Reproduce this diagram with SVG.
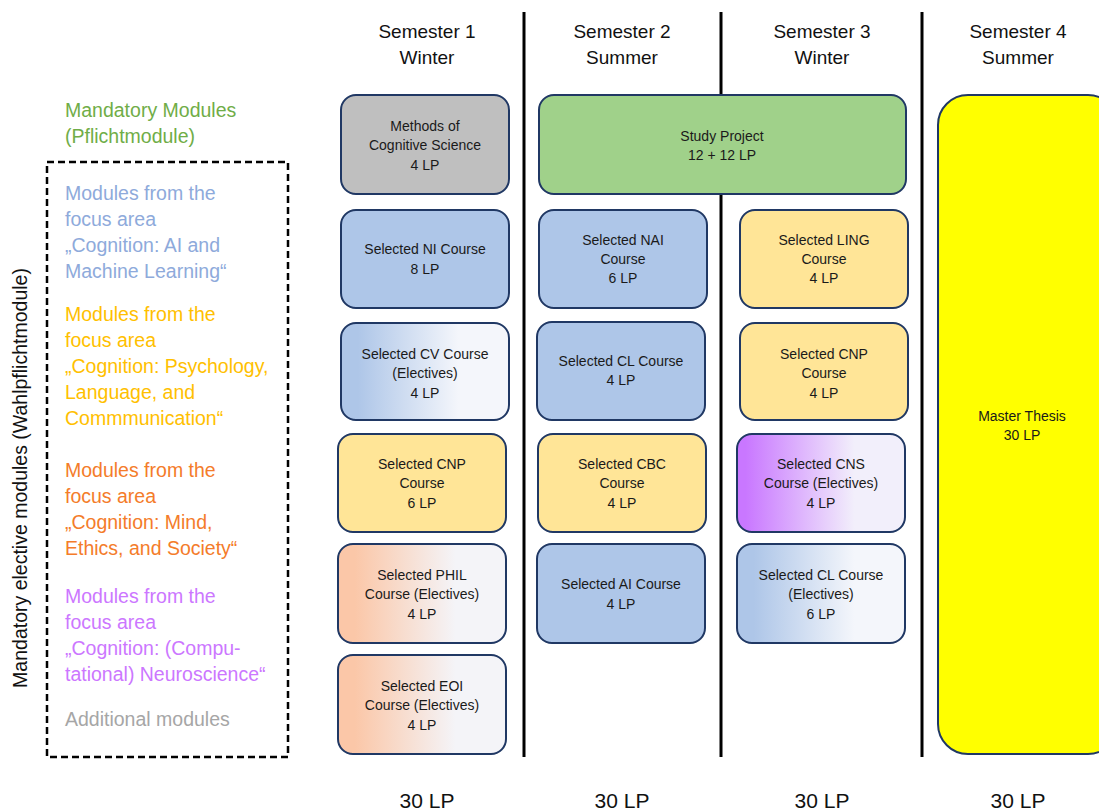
<svg xmlns="http://www.w3.org/2000/svg" width="1099" height="812" viewBox="0 0 1099 812">
<style>
.hd{font-family:"Liberation Sans",Arial,sans-serif;font-size:19px;fill:#111;text-anchor:middle}
.lp{font-family:"Liberation Sans",Arial,sans-serif;font-size:21px;fill:#111;text-anchor:middle}
.lg{font-family:"Liberation Sans",Arial,sans-serif;font-size:19.5px}
.bx{stroke:#203864;stroke-width:2}
.t{font-family:"Liberation Sans",Arial,sans-serif;font-size:14px;fill:#1a1a1a;text-anchor:middle}
.sep{stroke:#000;stroke-width:3}
</style>
<defs>
<linearGradient id="gBlue" x1="0" y1="0" x2="1" y2="0"><stop offset="0.1" stop-color="#aec6e8"/><stop offset="0.7" stop-color="#f4f6fb"/></linearGradient>
<linearGradient id="gOrange" x1="0" y1="0" x2="1" y2="0"><stop offset="0.1" stop-color="#fbc7a8"/><stop offset="0.7" stop-color="#f4f4f8"/></linearGradient>
<linearGradient id="gPurple" x1="0" y1="0" x2="1" y2="0"><stop offset="0.05" stop-color="#c977ff"/><stop offset="0.7" stop-color="#f2effb"/></linearGradient>
</defs>
<rect width="1099" height="812" fill="#fff"/>

<g id="separators">
<line class="sep" x1="524" y1="12" x2="524" y2="757"/>
<line class="sep" x1="721" y1="12" x2="721" y2="757"/>
<line class="sep" x1="922" y1="12" x2="922" y2="757"/>
</g>

<g id="headers">
<text class="hd" x="427" y="38">Semester 1</text><text class="hd" x="427" y="64">Winter</text>
<text class="hd" x="622" y="38">Semester 2</text><text class="hd" x="622" y="64">Summer</text>
<text class="hd" x="822" y="38">Semester 3</text><text class="hd" x="822" y="64">Winter</text>
<text class="hd" x="1018" y="38">Semester 4</text><text class="hd" x="1018" y="64">Summer</text>
</g>

<g id="legend">
<text class="lg" fill="#70ad47"><tspan x="65" y="117">Mandatory Modules</tspan><tspan x="65" y="143">(Pflichtmodule)</tspan></text>
<rect x="47" y="162" width="241" height="595" fill="none" stroke="#000" stroke-width="2.5" stroke-dasharray="7,4"/>
<text class="lg" fill="#8eaadb"><tspan x="65" y="200">Modules from the</tspan><tspan x="65" y="226">focus area</tspan><tspan x="65" y="252">„Cognition: AI and</tspan><tspan x="65" y="278">Machine Learning“</tspan></text>
<text class="lg" fill="#ffc000"><tspan x="65" y="321">Modules from the</tspan><tspan x="65" y="347">focus area</tspan><tspan x="65" y="373">„Cognition: Psychology,</tspan><tspan x="65" y="399">Language, and</tspan><tspan x="65" y="425">Commmunication“</tspan></text>
<text class="lg" fill="#f47c2a"><tspan x="65" y="477">Modules from the</tspan><tspan x="65" y="503">focus area</tspan><tspan x="65" y="529">„Cognition: Mind,</tspan><tspan x="65" y="555">Ethics, and Society“</tspan></text>
<text class="lg" fill="#cc77ff"><tspan x="65" y="603">Modules from the</tspan><tspan x="65" y="629">focus area</tspan><tspan x="65" y="655">„Cognition: (Compu-</tspan><tspan x="65" y="681">tational) Neuroscience“</tspan></text>
<text class="lg" fill="#a6a6a6"><tspan x="65" y="726">Additional modules</tspan></text>
<text class="lg" fill="#111" text-anchor="middle" transform="translate(27,478) rotate(-90)">Mandatory elective modules (Wahlpflichtmodule)</text>
</g>

<g id="methods"><rect class="bx" x="341" y="95" width="168" height="99" rx="15" fill="#bfbfbf"/>
<text class="t"><tspan x="425" y="131">Methods of</tspan><tspan x="425" y="150">Cognitive Science</tspan><tspan x="425" y="170">4 LP</tspan></text></g>
<g id="ni"><rect class="bx" x="341" y="210" width="168" height="98" rx="15" fill="#aec6e8"/>
<text class="t"><tspan x="425" y="254">Selected NI Course</tspan><tspan x="425" y="274">8 LP</tspan></text></g>
<g id="cv"><rect class="bx" x="341" y="323" width="168" height="97" rx="15" fill="url(#gBlue)"/>
<text class="t"><tspan x="425" y="359">Selected CV Course</tspan><tspan x="425" y="378">(Electives)</tspan><tspan x="425" y="398">4 LP</tspan></text></g>
<g id="cnp1"><rect class="bx" x="338" y="434" width="168" height="98" rx="15" fill="#ffe597"/>
<text class="t"><tspan x="422" y="469">Selected CNP</tspan><tspan x="422" y="488">Course</tspan><tspan x="422" y="508">6 LP</tspan></text></g>
<g id="phil"><rect class="bx" x="338" y="544" width="168" height="99" rx="15" fill="url(#gOrange)"/>
<text class="t"><tspan x="422" y="580">Selected PHIL</tspan><tspan x="422" y="599">Course (Electives)</tspan><tspan x="422" y="619">4 LP</tspan></text></g>
<g id="eoi"><rect class="bx" x="338" y="655" width="168" height="99" rx="15" fill="url(#gOrange)"/>
<text class="t"><tspan x="422" y="691">Selected EOI</tspan><tspan x="422" y="710">Course (Electives)</tspan><tspan x="422" y="730">4 LP</tspan></text></g>

<g id="study"><rect class="bx" x="539" y="95" width="367" height="99" rx="15" fill="#a0d18a"/>
<text class="t"><tspan x="722" y="141">Study Project</tspan><tspan x="722" y="160">12 + 12 LP</tspan></text></g>
<g id="nai"><rect class="bx" x="539" y="210" width="168" height="98" rx="15" fill="#aec6e8"/>
<text class="t"><tspan x="623" y="245">Selected NAI</tspan><tspan x="623" y="264">Course</tspan><tspan x="623" y="283">6 LP</tspan></text></g>
<g id="cl2"><rect class="bx" x="537" y="322" width="168" height="98" rx="15" fill="#aec6e8"/>
<text class="t"><tspan x="621" y="366">Selected CL Course</tspan><tspan x="621" y="385">4 LP</tspan></text></g>
<g id="cbc"><rect class="bx" x="538" y="434" width="168" height="98" rx="15" fill="#ffe597"/>
<text class="t"><tspan x="622" y="469">Selected CBC</tspan><tspan x="622" y="488">Course</tspan><tspan x="622" y="508">4 LP</tspan></text></g>
<g id="ai"><rect class="bx" x="537" y="544" width="168" height="99" rx="15" fill="#aec6e8"/>
<text class="t"><tspan x="621" y="589">Selected AI Course</tspan><tspan x="621" y="609">4 LP</tspan></text></g>

<g id="ling"><rect class="bx" x="740" y="210" width="168" height="98" rx="15" fill="#ffe597"/>
<text class="t"><tspan x="824" y="245">Selected LING</tspan><tspan x="824" y="264">Course</tspan><tspan x="824" y="283">4 LP</tspan></text></g>
<g id="cnp3"><rect class="bx" x="740" y="323" width="168" height="97" rx="15" fill="#ffe597"/>
<text class="t"><tspan x="824" y="359">Selected CNP</tspan><tspan x="824" y="378">Course</tspan><tspan x="824" y="398">4 LP</tspan></text></g>
<g id="cns"><rect class="bx" x="737" y="434" width="168" height="98" rx="15" fill="url(#gPurple)"/>
<text class="t"><tspan x="821" y="469">Selected CNS</tspan><tspan x="821" y="488">Course (Electives)</tspan><tspan x="821" y="508">4 LP</tspan></text></g>
<g id="cl3"><rect class="bx" x="737" y="544" width="168" height="99" rx="15" fill="url(#gBlue)"/>
<text class="t"><tspan x="821" y="580">Selected CL Course</tspan><tspan x="821" y="599">(Electives)</tspan><tspan x="821" y="619">6 LP</tspan></text></g>

<g id="thesis"><rect class="bx" x="938" y="95" width="180" height="659" rx="30" fill="#ffff00"/>
<text class="t"><tspan x="1022" y="421">Master Thesis</tspan><tspan x="1022" y="440">30 LP</tspan></text></g>

<g id="totals">
<text class="lp" x="427" y="808">30 LP</text>
<text class="lp" x="622" y="808">30 LP</text>
<text class="lp" x="822" y="808">30 LP</text>
<text class="lp" x="1018" y="808">30 LP</text>
</g>
</svg>
